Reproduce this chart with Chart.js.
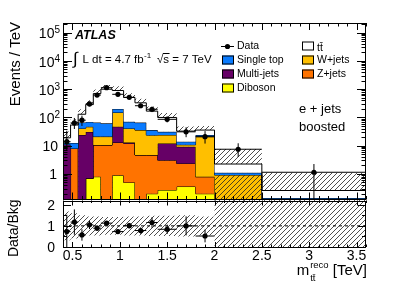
<!DOCTYPE html>
<html>
<head>
<meta charset="utf-8">
<script src="https://cdn.jsdelivr.net/npm/chart.js@4.4.1/dist/chart.umd.min.js"></script>
<style>
  html, body { margin: 0; padding: 0; background: #fff; }
  #wrap { width: 399px; height: 286px; }
</style>
</head>
<body>
<div id="wrap"><canvas id="c" width="399" height="286"></canvas></div>
<script>
// bins in TeV (variable width)
const binEdges = [0.40, 0.48, 0.56, 0.64, 0.72, 0.80, 0.92, 1.04, 1.16, 1.28, 1.40, 1.60, 1.80, 2.00, 2.50, 3.60];

// backgrounds, events / TeV, bottom of the stack first
const diboson   = [0, 0, 0, 0.7, 0.8, 0, 0.9, 0.5, 0, 0.2, 0.27, 0.36, 0.2, 0, 0];
const zjets     = [0, 8, 0, 0, 9.8, 10.6, 12.1, 11.5, 4.7, 4.5, 2.8, 2.0, 0.6, 0, 0];
const multijet  = [11, 0, 24, 30, 0, 0, 34, 1, 0, 0, 8.9, 6.8, 0, 0, 0];
const wjets     = [0, 0, 17, 16, 10.4, 10.4, 103, 28, 31, 19, 12, 1.6, 20, 0.92, 0];
const singleTop = [1.5, 4.5, 25, 23, 45, 41, 50, 29, 30, 12, 7, 3.1, 3, 0.18, 0.14];
const ttbar     = [6.5, 41.5, 64, 215, 634, 938, 700, 440, 264, 132, 69, 19, 12, 1.15, 0.12];
// upper edge of the uncertainty band
const bandHigh  = [32, 86, 195, 410, 980, 1400, 1260, 715, 460, 245, 145, 48, 50, 7.6, 1.1];

// data
const dataVals  = [13.9, 64, 80, 300, 620, 1130, 660, 515, 260, 195, 86, 31, 20.9, 7.5, 1.15];
const dataErrLo = [7, 25, 30, 55, 85, 95, 74, 64, 45, 40, 19, 11, 9, 3.5, 1.05];
const dataErrHi = [20, 32, 36, 62, 90, 100, 78, 68, 50, 45, 23, 14, 12, 4.7, 1.1];

// ratio panel
const ratioVals    = [0.73, 1.18, 0.57, 1.05, 0.89, 1.13, 0.73, 1.01, 0.78, 1.16, 0.84, 1.0, 0.52];
const ratioErr     = [0.8, 0.6, 0.27, 0.2, 0.13, 0.1, 0.09, 0.13, 0.15, 0.25, 0.22, 0.45, 0.3];
const ratioBandHi  = [1.68, 1.6, 1.5, 1.45, 1.45, 1.42, 1.42, 1.45, 1.45, 1.48, 1.48, 1.5, 1.45, 2.25, 2.25];
const ratioBandLo  = [0.32, 0.4, 0.5, 0.55, 0.55, 0.58, 0.58, 0.55, 0.55, 0.52, 0.52, 0.5, 0.55, 0, 0];

// ticks
const xTickVals   = [0.5, 1, 1.5, 2, 2.5, 3, 3.5];
const xTickLabels = ['0.5', '1', '1.5', '2', '2.5', '3', '3.5'];
const yTickExp    = [0, 1, 2, 3, 4, 5];
const rTickVals   = [0, 1, 2];

const yMin = 0.125, yMax = 2.2e5;
const FONT = '"Liberation Sans", Arial, sans-serif';
const colors = {
  ttbar: '#ffffff', singleTop: '#0a7bff', wjets: '#ffbf00',
  multijet: '#660066', zjets: '#ff7300', diboson: '#ffff00'
};

const canvas = document.getElementById('c');
const ctx0 = canvas.getContext('2d');

function hatch() {
  const p = 5;
  const c = document.createElement('canvas');
  c.width = p; c.height = p;
  const g = c.getContext('2d');
  g.strokeStyle = '#222';
  g.lineWidth = 0.8;
  g.beginPath();
  g.moveTo(0, p); g.lineTo(p, 0);
  g.moveTo(-1, 1); g.lineTo(1, -1);
  g.moveTo(p - 1, p + 1); g.lineTo(p + 1, p - 1);
  g.stroke();
  return ctx0.createPattern(c, 'repeat');
}
const hatchPat = hatch();

// cumulative stack
const layers = [diboson, zjets, multijet, wjets, singleTop, ttbar];
let run = diboson.map(() => 0);
const cum = layers.map(l => { run = run.map((v, i) => v + l[i]); return run; });

function steps(vals, floor) {
  const pts = vals.map((v, i) => ({ x: binEdges[i], y: Math.max(v, floor) }));
  pts.push({ x: binEdges[binEdges.length - 1], y: Math.max(vals[vals.length - 1], floor) });
  return pts;
}
const centers = binEdges.slice(0, -1).map((e, i) => (e + binEdges[i + 1]) / 2);

function vbars(vals, lo, hi, floor) {
  const pts = [];
  vals.forEach((v, i) => {
    pts.push({ x: centers[i], y: Math.max(v - lo[i], floor) }, { x: centers[i], y: v + hi[i] }, { x: centers[i], y: null });
  });
  return pts;
}
function hbars(vals) {
  const pts = [];
  vals.forEach((v, i) => {
    pts.push({ x: binEdges[i], y: v }, { x: binEdges[i + 1], y: v }, { x: binEdges[i], y: null });
  });
  return pts;
}

const hist = (data, color, fill) => ({
  data, stepped: true, borderColor: '#000', borderWidth: 1,
  backgroundColor: color, fill, pointRadius: 0, yAxisID: 'y'
});
const seg = (data, axis) => ({
  data, borderColor: '#000', borderWidth: 1, pointRadius: 0, fill: false, yAxisID: axis
});

const datasets = [
  { data: dataVals.map((v, i) => ({ x: centers[i], y: v })), showLine: false, pointRadius: 2.6,
    pointBackgroundColor: '#000', pointBorderWidth: 0, borderColor: '#000', yAxisID: 'y' },
  seg(vbars(dataVals, dataErrLo, dataErrHi, yMin), 'y'),
  seg(hbars(dataVals), 'y'),
  { data: ratioVals.map((v, i) => ({ x: centers[i], y: v })), showLine: false, pointRadius: 2.6,
    pointBackgroundColor: '#000', pointBorderWidth: 0, borderColor: '#000', yAxisID: 'yr' },
  seg(vbars(ratioVals, ratioErr, ratioErr, 0), 'yr'),
  seg(hbars(ratioVals), 'yr'),
  { data: [{ x: binEdges[0], y: 1 }, { x: binEdges[binEdges.length - 1], y: 1 }], borderColor: '#000',
    borderWidth: 1, borderDash: [3, 3], pointRadius: 0, fill: false, yAxisID: 'yr' },
  { data: steps(ratioBandHi, 0), stepped: true, borderWidth: 0, borderColor: 'rgba(0,0,0,0)',
    backgroundColor: hatchPat, fill: '+1', pointRadius: 0, yAxisID: 'yr' },
  { data: steps(ratioBandLo, 0), stepped: true, borderWidth: 0, borderColor: 'rgba(0,0,0,0)',
    fill: false, pointRadius: 0, yAxisID: 'yr' },
  // hatched W+jets in the 2.0-2.5 TeV bin
  { data: [{ x: binEdges[13], y: cum[3][13] }, { x: binEdges[14], y: cum[3][13] }], borderWidth: 0,
    borderColor: 'rgba(0,0,0,0)', backgroundColor: hatchPat, fill: 'start', pointRadius: 0, yAxisID: 'y' },
  hist(steps(cum[5], yMin), colors.ttbar, '+1'),
  hist(steps(cum[4], yMin), colors.singleTop, '+1'),
  hist(steps(cum[3], yMin), colors.wjets, '+1'),
  hist(steps(cum[2], yMin), colors.multijet, '+1'),
  hist(steps(cum[1], yMin), colors.zjets, '+1'),
  hist(steps(cum[0], yMin), colors.diboson, 'start'),
  { data: steps(bandHigh, yMin), stepped: true, borderWidth: 0, borderColor: 'rgba(0,0,0,0)',
    backgroundColor: hatchPat, fill: 'start', pointRadius: 0, yAxisID: 'y' }
];

function drawText(ctx, s, x, y, size, align, base, style) {
  ctx.font = (style || '') + ' ' + size + 'px ' + FONT;
  ctx.textAlign = align || 'left';
  ctx.textBaseline = base || 'alphabetic';
  ctx.fillText(s, x, y);
  return ctx.measureText(s).width;
}

const decor = {
  id: 'decor',
  beforeDraw(chart) {
    const ctx = chart.ctx;
    ctx.save();
    ctx.fillStyle = '#fff';
    ctx.fillRect(0, 0, chart.width, chart.height);
    ctx.restore();
  },
  afterDraw(chart) {
    const ctx = chart.ctx;
    const xs = chart.scales.x, ys = chart.scales.y, rs = chart.scales.yr;
    const L = xs.left, R = xs.right;
    ctx.save();
    ctx.strokeStyle = '#000';
    ctx.fillStyle = '#000';
    ctx.lineWidth = 1;

    // frames
    ctx.strokeRect(Math.round(L) + 0.5, Math.round(ys.top) + 0.5, Math.round(R - L) - 1, Math.round(ys.bottom - ys.top) - 1);
    ctx.strokeRect(Math.round(L) + 0.5, Math.round(rs.top) + 1.5, Math.round(R - L) - 1, Math.round(rs.bottom - rs.top) - 2);

    ctx.beginPath();
    // x ticks
    for (let k = 4; k <= 36; k++) {
      const px = Math.round(xs.getPixelForValue(k / 10)) + 0.5;
      const major = k % 5 === 0;
      const a = major ? 7 : 3.5, b = major ? 5 : 2.5;
      ctx.moveTo(px, ys.top); ctx.lineTo(px, ys.top + a);
      ctx.moveTo(px, ys.bottom); ctx.lineTo(px, ys.bottom - a);
      ctx.moveTo(px, rs.top + 1); ctx.lineTo(px, rs.top + 1 + b);
      ctx.moveTo(px, rs.bottom); ctx.lineTo(px, rs.bottom - b);
    }
    // log y ticks
    for (let d = -1; d <= 5; d++) {
      for (let m = 1; m <= 9; m++) {
        const v = m * Math.pow(10, d);
        if (v < yMin || v > yMax) continue;
        const py = Math.round(ys.getPixelForValue(v)) + 0.5;
        const len = m === 1 ? 9 : 4.5;
        ctx.moveTo(L, py); ctx.lineTo(L + len, py);
        ctx.moveTo(R, py); ctx.lineTo(R - len, py);
      }
    }
    // ratio y ticks
    for (let v = 0; v <= 2.0001; v += 0.5) {
      const py = Math.round(rs.getPixelForValue(v)) + 0.5;
      const len = Math.abs(v - Math.round(v)) < 1e-6 ? 8 : 4;
      ctx.moveTo(L, py); ctx.lineTo(L + len, py);
      ctx.moveTo(R, py); ctx.lineTo(R - len, py);
    }
    ctx.stroke();

    // tick labels
    xTickVals.forEach((v, i) => drawText(ctx, xTickLabels[i], xs.getPixelForValue(v), rs.bottom + 13, 14, 'center'));
    yTickExp.forEach(e => {
      const py = ys.getPixelForValue(Math.pow(10, e));
      if (e === 0) drawText(ctx, '1', 57, py + 5.5, 14, 'right');
      else if (e === 1) drawText(ctx, '10', 58, py + 5.5, 14, 'right');
      else {
        const w = drawText(ctx, String(e), 60, py + 0.8, 10, 'right');
        drawText(ctx, '10', 60 - w, py + 5.6, 14, 'right');
      }
    });
    rTickVals.forEach(v => drawText(ctx, String(v), 55, rs.getPixelForValue(v) + 5, 14, 'right'));

    // axis titles
    ctx.save();
    ctx.translate(19.5, ys.top - 1);
    ctx.rotate(-Math.PI / 2);
    drawText(ctx, 'Events / TeV', 0, 0, 15, 'right');
    ctx.restore();
    ctx.save();
    ctx.translate(17.5, rs.top);
    ctx.rotate(-Math.PI / 2);
    drawText(ctx, 'Data/Bkg', 0, 0, 14, 'right');
    ctx.restore();

    // x title: m_{tt}^{reco} [TeV], right aligned
    ctx.font = '15px ' + FONT;
    const wm = ctx.measureText('m').width, wt = ctx.measureText(' [TeV]').width;
    ctx.font = '9.5px ' + FONT;
    const wr = Math.max(ctx.measureText('reco').width, ctx.measureText('tt\u0304').width);
    let xx = R + 1 - wt - wr - wm - 1;
    drawText(ctx, 'm', xx, 275, 15);
    drawText(ctx, 'reco', xx + wm + 1, 268, 9.5);
    drawText(ctx, 'tt\u0304', xx + wm + 1, 281, 9.5);
    drawText(ctx, ' [TeV]', xx + wm + 1 + wr, 275, 15);

    // labels
    drawText(ctx, 'ATLAS', 75, 38.5, 12.5, 'left', 'alphabetic', 'italic bold');
    drawText(ctx, '\u222B', 73, 64, 17);
    let lx = 82.5;
    lx += drawText(ctx, 'L dt = 4.7 fb', lx, 63.3, 11.5);
    drawText(ctx, '-1', lx + 0.5, 58, 8);
    const ws = drawText(ctx, '\u221A', 157, 63.3, 11.5);
    const wss = drawText(ctx, 's', 157 + ws, 63.3, 11.5);
    ctx.beginPath();
    ctx.moveTo(157 + ws - 0.5, 53.5); ctx.lineTo(157 + ws + wss + 0.5, 53.5);
    ctx.stroke();
    drawText(ctx, ' = 7 TeV', 157 + ws + wss, 63.3, 11.5);
    drawText(ctx, 'e + jets', 299, 112.5, 13);
    drawText(ctx, 'boosted', 299, 131, 13);

    // legend
    const box = (x, y, c) => {
      ctx.fillStyle = c;
      ctx.fillRect(x, y - 4.5, 12, 9);
      ctx.strokeStyle = '#000';
      ctx.strokeRect(x + 0.5, y - 4.5 + 0.5, 11, 8);
      ctx.fillStyle = '#000';
    };
    ctx.beginPath();
    ctx.moveTo(221, 46.5); ctx.lineTo(234, 46.5);
    ctx.stroke();
    ctx.beginPath();
    ctx.arc(227.5, 46.5, 2.6, 0, Math.PI * 2);
    ctx.fill();
    drawText(ctx, 'Data', 237, 46.5, 10.5, 'left', 'middle');
    box(222, 60, colors.singleTop); drawText(ctx, 'Single top', 237, 60.5, 10.5, 'left', 'middle');
    box(222, 74, colors.multijet);  drawText(ctx, 'Multi-jets', 237, 74.5, 10.5, 'left', 'middle');
    box(222, 88, colors.diboson);   drawText(ctx, 'Diboson', 237, 88.5, 10.5, 'left', 'middle');
    box(302, 46, colors.ttbar);     drawText(ctx, 'tt\u0304', 317, 48, 10.5, 'left', 'middle');
    box(302, 60, colors.wjets);     drawText(ctx, 'W+jets', 317, 60.5, 10.5, 'left', 'middle');
    box(302, 74, colors.zjets);     drawText(ctx, 'Z+jets', 317, 74.5, 10.5, 'left', 'middle');

    ctx.restore();
  }
};

new Chart(canvas, {
  type: 'line',
  data: { datasets },
  options: {
    responsive: false,
    animation: false,
    events: [],
    layout: { padding: { left: 63, right: 33, top: 23, bottom: 39 } },
    plugins: { legend: { display: false }, tooltip: { enabled: false } },
    scales: {
      x: { type: 'linear', min: binEdges[0], max: binEdges[binEdges.length - 1], display: false },
      y: { type: 'logarithmic', min: yMin, max: yMax, stack: 'v', stackWeight: 176.5, weight: 2, display: false },
      yr: { type: 'linear', min: 0, max: 2.25, stack: 'v', stackWeight: 47.5, weight: 1, display: false }
    }
  },
  plugins: [decor]
});
</script>
</body>
</html>
